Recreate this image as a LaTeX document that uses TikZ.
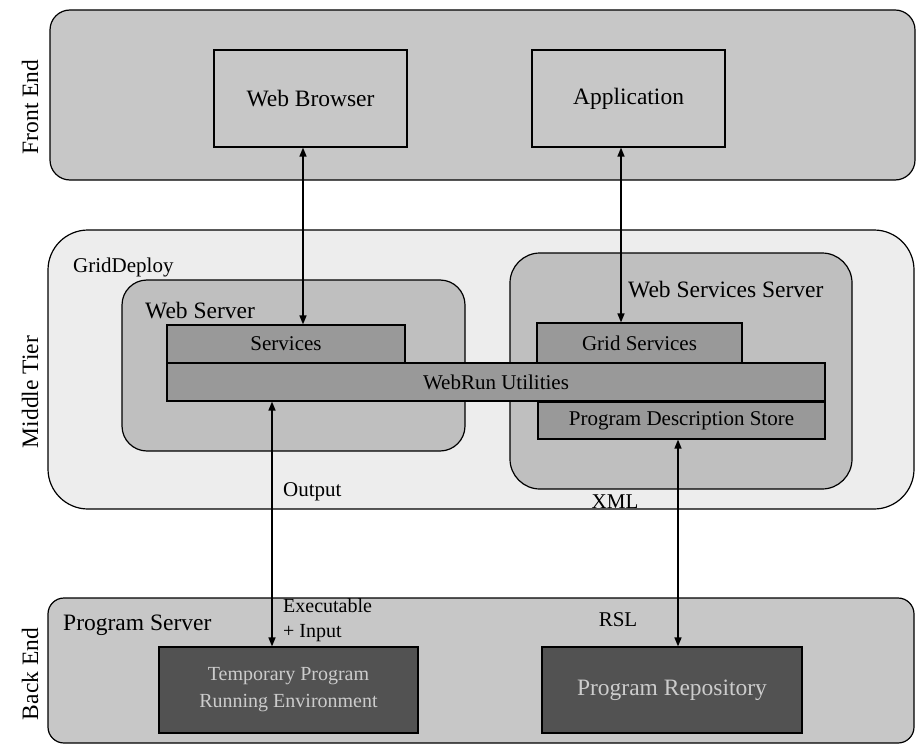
\documentclass[tikz,border=0pt]{standalone}
\usepackage{fontspec}
\setmainfont{Liberation Serif}
\usetikzlibrary{arrows.meta}

\begin{document}
\begin{tikzpicture}[x=1pt, y=-1pt,
        tier/.style={draw, line width=1.2pt, inner sep=0pt},
        box/.style={draw, line width=1.2pt, inner sep=0pt, align=center},
        link/.style={line width=1.5pt, {Triangle[length=9pt,width=7pt]}-{Triangle[length=9pt,width=7pt]}},
        big/.style={font=\fontsize{23.5}{28}\selectfont},
        font=\fontsize{21}{25}\selectfont]
        \useasboundingbox (0,0) rectangle (917,746);

        % tiers
        \node[tier, fill=black!22, rounded corners=20pt, minimum width=865pt, minimum height=170pt] (front) at (482.5,95) {};
        \node[tier, fill=black!7, rounded corners=40pt, minimum width=866pt, minimum height=279pt] (middle) at (481,369.5) {};
        \node[tier, fill=black!22, rounded corners=16pt, minimum width=866pt, minimum height=145pt] (back) at (481,670.5) {};

        \node[big, rotate=90] (frontlbl) at (30,107) {Front End};
        \node[big, rotate=90] (middlelbl) at (30,392) {Middle Tier};
        \node[big, rotate=90] (backlbl) at (30,674) {Back End};

        % front end
        \node[box, big, minimum width=193pt, minimum height=97pt] (wb) at (310.5,98.5) {Web Browser};
        \node[box, big, minimum width=193pt, minimum height=97pt] (app) at (628.5,98.5) {Application};

        % middle tier
        \node[anchor=west, inner sep=0pt] (gd) at (73,267) {GridDeploy};
        \node[tier, fill=black!25, rounded corners=25pt, minimum width=343pt, minimum height=171pt] (ws) at (293.5,365.5) {};
        \node[tier, fill=black!25, rounded corners=30pt, minimum width=342pt, minimum height=236pt] (wss) at (681,371) {};
        \node[big, anchor=west, inner sep=0pt] (wslbl) at (145,311) {Web Server};
        \node[big, anchor=west, inner sep=0pt] (wsslbl) at (628,290) {Web Services Server};

        \node[box, fill=black!40, minimum width=238pt, minimum height=38pt] (services) at (286,344) {Services};
        \node[box, fill=black!40, minimum width=205pt, minimum height=40pt] (grid) at (639.5,343) {Grid Services};
        \node[box, fill=black!40, minimum width=658pt, minimum height=38pt] (webrun) at (496,382) {WebRun Utilities};
        \node[box, fill=black!40, minimum width=287pt, minimum height=37pt] (pds) at (681.5,420.5) {Program Description Store};

        \node[anchor=west, inner sep=0pt] (output) at (283,492) {Output};
        \node[inner sep=0pt] (xml) at (615,502) {XML};

        % back end
        \node[big, anchor=west, inner sep=0pt] (pslbl) at (63,625) {Program Server};
        \node[box, fill=black!68, text=black!20, font=\fontsize{20}{27}\selectfont, minimum width=259pt, minimum height=86pt] (temp) at (288.5,690) {Temporary Program\\Running Environment};
        \node[box, big, fill=black!68, text=black!20, minimum width=260pt, minimum height=86pt] (repo) at (672,690) {Program Repository};
        \node[anchor=north west, align=left, inner sep=0pt, font=\fontsize{20}{25}\selectfont] (exec) at (283,598) {Executable\\+ Input};
        \node[inner sep=0pt] (rsl) at (618,620) {RSL};

        % links
        \draw[link] ([xshift=-7.5pt]wb.south) -- ([xshift=17pt]services.north);
        \draw[link] ([xshift=-7.5pt]app.south) -- ([xshift=-18.5pt]grid.north);
        \draw[link] ([xshift=-224pt]webrun.south) -- ([xshift=-16.5pt]temp.north);
        \draw[link] ([xshift=-3.5pt]pds.south) -- ([xshift=6pt]repo.north);
    \end{tikzpicture}
\end{document}
